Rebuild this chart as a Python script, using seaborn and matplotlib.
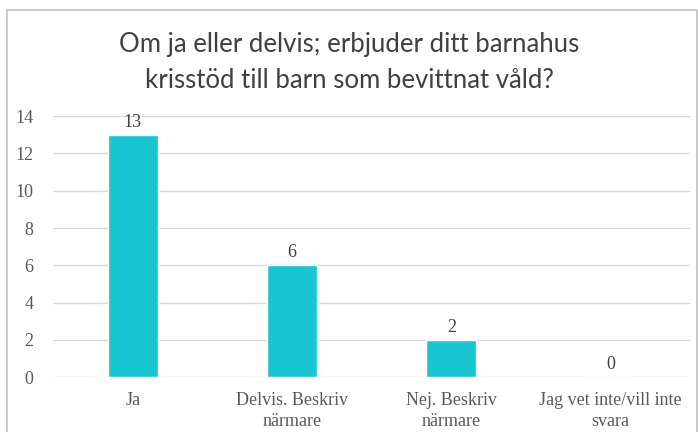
import matplotlib
matplotlib.use("Agg")
import matplotlib.pyplot as plt
import seaborn as sns
import pandas as pd
from matplotlib.patches import Rectangle

categories = ["Ja", "Delvis. Beskriv\nnärmare", "Nej. Beskriv\nnärmare", "Jag vet inte/vill inte\nsvara"]
values = [13, 6, 2, 0]
yticks = [0, 2, 4, 6, 8, 10, 12, 14]
title = "Om ja eller delvis; erbjuder ditt barnahus\nkrisstöd till barn som bevittnat våld?"

df = pd.DataFrame({"cat": categories, "val": values})

sns.set_theme(style="white")
plt.rcParams['font.family'] = ['Liberation Serif', 'DejaVu Serif']

fig = plt.figure(figsize=(6.98, 4.32), dpi=100)
ax = fig.add_axes([0.076, 0.127, 0.913, 0.604])

sns.barplot(data=df, x="cat", y="val", color="#18C6D1", saturation=1, width=0.315, ax=ax, zorder=3)

ax.set_ylim(0, 14)
ax.set_yticks(yticks)
ax.yaxis.grid(True, color="#d9d9d9", linewidth=1, zorder=0)
for s in ax.spines.values():
    s.set_visible(False)
ax.set_xlabel("")
ax.set_ylabel("")
ax.tick_params(axis="y", length=0, pad=14, labelsize=13, labelcolor="#595959")
ax.tick_params(axis="x", length=0, pad=11, labelsize=13, labelcolor="#595959")
for lbl in ax.get_xticklabels():
    lbl.set_linespacing(1.25)

for c in ax.containers:
    ax.bar_label(c, labels=[str(v) for v in values], padding=3, fontsize=13, color="#404040")

fig.text(0.5, 0.855, title, ha="center", va="center", fontsize=18.5, color="#404040",
         family=["Lato", "DejaVu Sans"], linespacing=1.55)

fig.patches.append(Rectangle((7/698, -0.01), 690/698, 1 - 10/432 + 0.01, transform=fig.transFigure,
                             fill=False, edgecolor="#bfbfbf", linewidth=1.2, zorder=10))

fig.savefig("out.png", dpi=100)
